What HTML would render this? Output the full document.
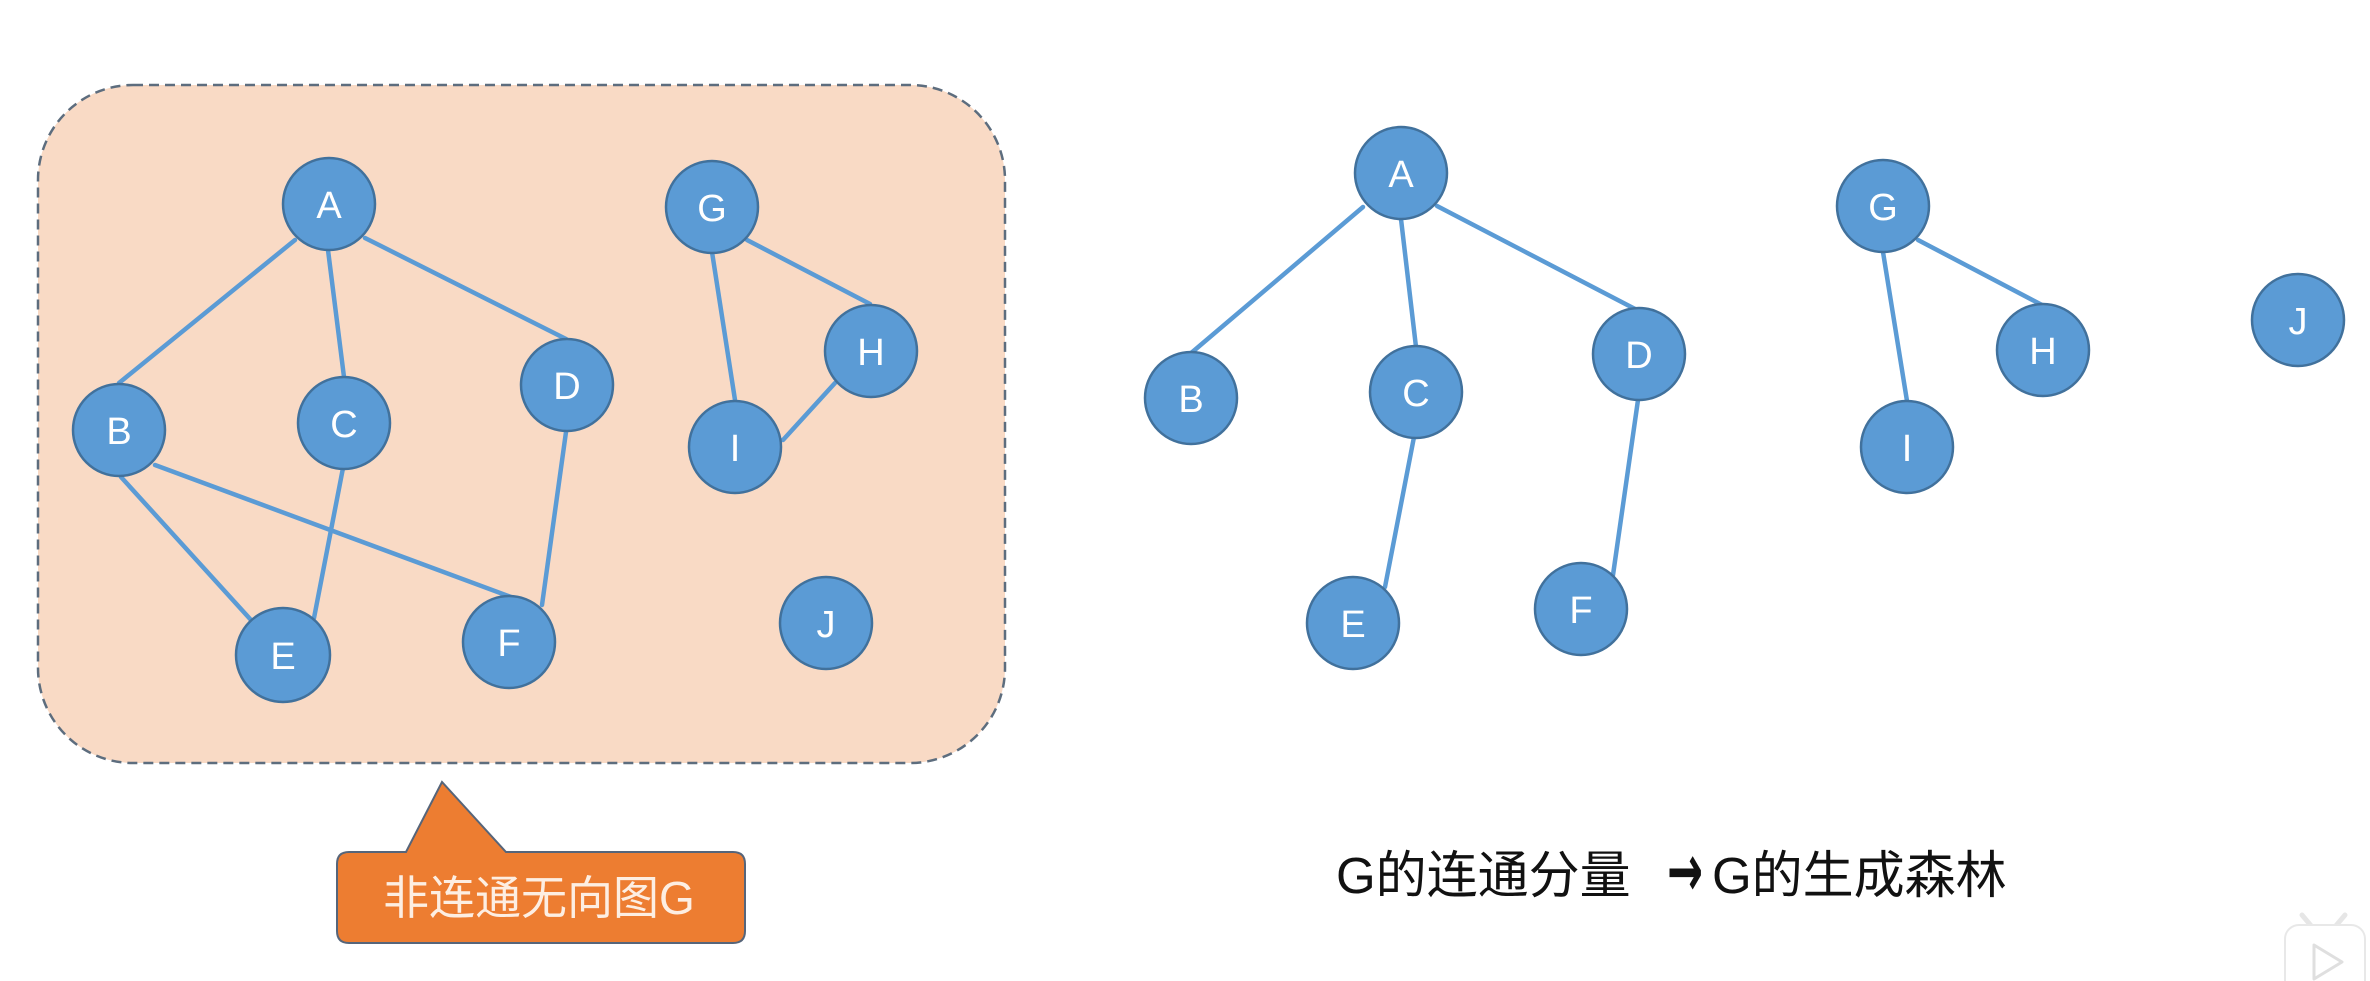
<!DOCTYPE html>
<html>
<head>
<meta charset="utf-8">
<style>
  html, body { margin:0; padding:0; background:#ffffff; }
  svg { display:block; }
  .lbl { font-family: "Liberation Sans", sans-serif; font-size:38px; fill:#ffffff; text-anchor:middle; }
  .edge { stroke:#5b9bd5; stroke-width:4.5; fill:none; stroke-linecap:round; }
  .node { fill:#5b9bd5; stroke:#41719c; stroke-width:2.5; }
</style>
</head>
<body>
<svg width="2370" height="981" viewBox="0 0 2370 981" xmlns="http://www.w3.org/2000/svg">
  <rect x="0" y="0" width="2370" height="981" fill="#ffffff"/>

  <!-- Left dashed container -->
  <rect x="38" y="85" width="967" height="678" rx="95" ry="95" fill="#f9dac5" stroke="#5d6d7e" stroke-width="2.5" stroke-dasharray="10 6"/>

  <!-- Left graph edges -->
  <line class="edge" x1="295" y1="240" x2="119" y2="383"/>
  <line class="edge" x1="328" y1="250" x2="344" y2="377"/>
  <line class="edge" x1="365" y1="238" x2="566" y2="339"/>
  <line class="edge" x1="121" y1="477" x2="251" y2="620"/>
  <line class="edge" x1="155" y1="465" x2="511" y2="597"/>
  <line class="edge" x1="343" y1="468" x2="314" y2="618"/>
  <line class="edge" x1="566" y1="432" x2="542" y2="605"/>
  <line class="edge" x1="747" y1="240" x2="870" y2="304"/>
  <line class="edge" x1="712" y1="252" x2="735" y2="400"/>
  <line class="edge" x1="835" y1="383" x2="783" y2="440"/>

  <!-- Left graph nodes -->
  <circle class="node" cx="329" cy="204" r="46"/><text class="lbl" x="329" y="218">A</text>
  <circle class="node" cx="119" cy="430" r="46"/><text class="lbl" x="119" y="444">B</text>
  <circle class="node" cx="344" cy="423" r="46"/><text class="lbl" x="344" y="437">C</text>
  <circle class="node" cx="567" cy="385" r="46"/><text class="lbl" x="567" y="399">D</text>
  <circle class="node" cx="283" cy="655" r="47"/><text class="lbl" x="283" y="669">E</text>
  <circle class="node" cx="509" cy="642" r="46"/><text class="lbl" x="509" y="656">F</text>
  <circle class="node" cx="712" cy="207" r="46"/><text class="lbl" x="712" y="221">G</text>
  <circle class="node" cx="871" cy="351" r="46"/><text class="lbl" x="871" y="365">H</text>
  <circle class="node" cx="735" cy="447" r="46"/><text class="lbl" x="735" y="461">I</text>
  <circle class="node" cx="826" cy="623" r="46"/><text class="lbl" x="826" y="637">J</text>

  <!-- Callout -->
  <path d="M 349 852 L 406 852 L 442 782 L 506 852 L 733 852 Q 745 852 745 864 L 745 931 Q 745 943 733 943 L 349 943 Q 337 943 337 931 L 337 864 Q 337 852 349 852 Z"
        fill="#ed7d31" stroke="#56657a" stroke-width="2"/>
  <text x="383" y="914" font-family="'Liberation Sans', 'Noto Sans CJK SC', sans-serif" font-size="46" fill="#fdeee2">非连通无向图G</text>

  <!-- Right forest edges -->
  <line class="edge" x1="1363" y1="207" x2="1190" y2="354"/>
  <line class="edge" x1="1401" y1="219" x2="1416" y2="347"/>
  <line class="edge" x1="1437" y1="206" x2="1637" y2="310"/>
  <line class="edge" x1="1414" y1="437" x2="1385" y2="587"/>
  <line class="edge" x1="1638" y1="400" x2="1613" y2="575"/>
  <line class="edge" x1="1918" y1="240" x2="2042" y2="305"/>
  <line class="edge" x1="1883" y1="252" x2="1907" y2="401"/>

  <!-- Right forest nodes -->
  <circle class="node" cx="1401" cy="173" r="46"/><text class="lbl" x="1401" y="187">A</text>
  <circle class="node" cx="1191" cy="398" r="46"/><text class="lbl" x="1191" y="412">B</text>
  <circle class="node" cx="1416" cy="392" r="46"/><text class="lbl" x="1416" y="406">C</text>
  <circle class="node" cx="1639" cy="354" r="46"/><text class="lbl" x="1639" y="368">D</text>
  <circle class="node" cx="1353" cy="623" r="46"/><text class="lbl" x="1353" y="637">E</text>
  <circle class="node" cx="1581" cy="609" r="46"/><text class="lbl" x="1581" y="623">F</text>
  <circle class="node" cx="1883" cy="206" r="46"/><text class="lbl" x="1883" y="220">G</text>
  <circle class="node" cx="2043" cy="350" r="46"/><text class="lbl" x="2043" y="364">H</text>
  <circle class="node" cx="1907" cy="447" r="46"/><text class="lbl" x="1907" y="461">I</text>
  <circle class="node" cx="2298" cy="320" r="46"/><text class="lbl" x="2298" y="334">J</text>

  <!-- Bottom caption -->
  <text x="1336" y="893" font-family="'Liberation Sans', 'Noto Sans CJK SC', sans-serif" font-size="51" fill="#111111">G的连通分量</text>
  <g transform="translate(1667,896) scale(0.58,1)">
    <text x="0" y="0" font-family="'DejaVu Sans', sans-serif" font-weight="bold" font-size="74" fill="#111111">→</text>
  </g>
  <text x="1712" y="893" font-family="'Liberation Sans', 'Noto Sans CJK SC', sans-serif" font-size="51" fill="#111111">G的生成森林</text>

  <!-- Bottom-right faint player icon -->
  <g opacity="0.9">
    <line x1="2302" y1="915" x2="2313" y2="928" stroke="#e4e4e4" stroke-width="5" stroke-linecap="round"/>
    <line x1="2345" y1="915" x2="2334" y2="928" stroke="#e4e4e4" stroke-width="5" stroke-linecap="round"/>
    <rect x="2285" y="925" width="80" height="70" rx="14" fill="#ffffff" stroke="#e6e6e6" stroke-width="2"/>
    <path d="M 2314 945 L 2342 962 L 2314 979 Z" fill="none" stroke="#dcdcdc" stroke-width="3" stroke-linejoin="round"/>
  </g>
</svg>
</body>
</html>
